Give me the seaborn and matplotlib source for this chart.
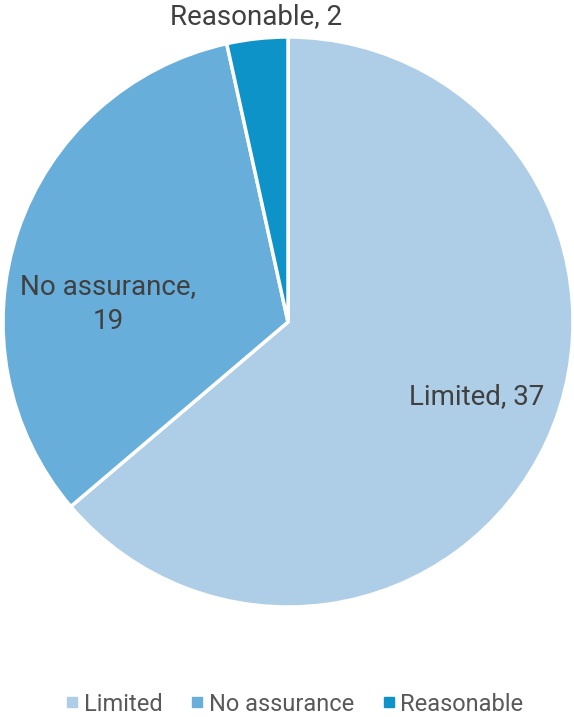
import matplotlib
matplotlib.use("Agg")
import matplotlib.pyplot as plt
from matplotlib.lines import Line2D
import seaborn as sns

categories = ["Limited", "No assurance", "Reasonable"]
values = [37, 19, 2]
colors = ["#AECDE6", "#68AEDB", "#0E93C8"]

sns.set_theme(style="white")
plt.rcParams["font.family"] = ["Roboto", "DejaVu Sans"]
text_color = "#404040"

W, H = 574, 717
fig = plt.figure(figsize=(W / 100, H / 100), dpi=100)
cx, cy, r = 288, 322, 285
ax = fig.add_axes([(cx - r) / W, (H - cy - r) / H, 2 * r / W, 2 * r / H])
wedges, _ = ax.pie(values, colors=colors, startangle=90, counterclock=False,
                   radius=1, wedgeprops=dict(edgecolor="white", linewidth=2.5))
ax.set_xlim(-1, 1)
ax.set_ylim(-1, 1)
ax.set_aspect("equal")
ax.axis("off")

label_pos = [(0.663, -0.263), (-0.632, 0.063), (-0.112, 1.073)]
label_txt = [f"{categories[0]}, {values[0]}",
             f"{categories[1]},\n{values[1]}",
             f"{categories[2]}, {values[2]}"]
for (x, y), t in zip(label_pos, label_txt):
    ax.text(x, y, t, ha="center", va="center", fontsize=20, color=text_color,
            linespacing=1.35, clip_on=False)

handles = [Line2D([0], [0], marker="s", linestyle="none", markersize=6.5,
                  markerfacecolor=c, markeredgecolor=c) for c in colors]
fig.legend(handles, categories, loc="center", bbox_to_anchor=(0.513, 0.018),
           ncol=3, frameon=False, fontsize=17, labelcolor="#595959",
           handletextpad=0.2, columnspacing=1.15, handlelength=0.6)

fig.savefig("out.png", dpi=100, facecolor="white")
